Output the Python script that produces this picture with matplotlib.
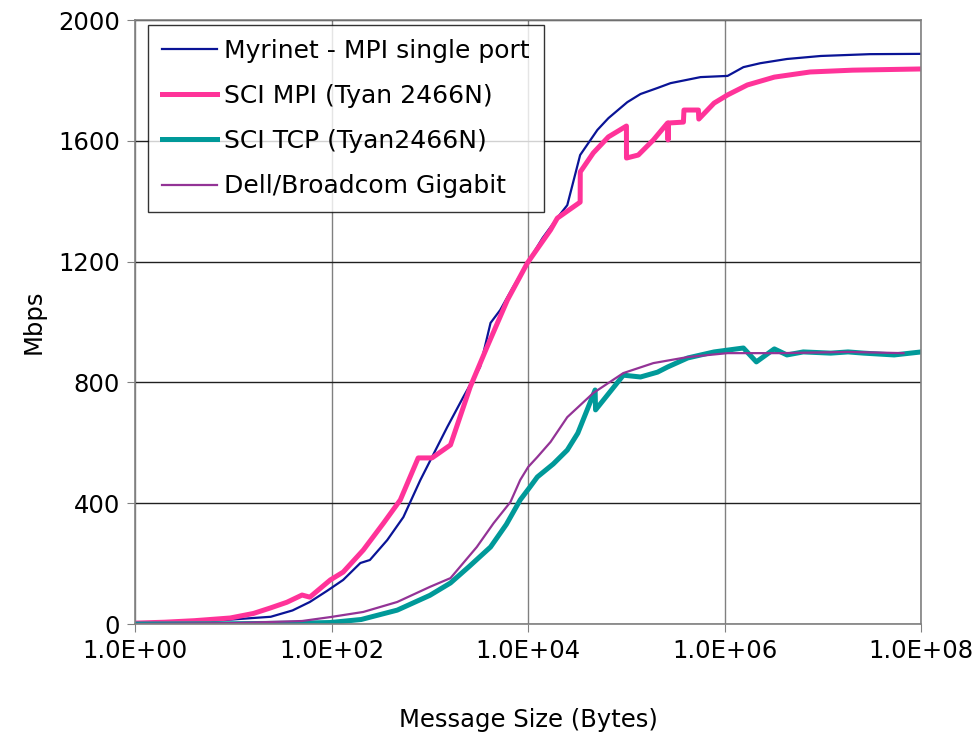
import matplotlib
matplotlib.use('Agg')
import matplotlib.pyplot as plt
from matplotlib.ticker import FixedLocator, FuncFormatter, NullLocator

# values
myrinet_x = [1, 2, 4, 8, 16, 24, 40, 60, 90, 131, 196, 245, 368, 537, 800, 1500, 2190,
             3240, 4140, 5200, 7000, 10000, 14000, 19800, 25000, 33800, 50600, 65500,
             102000, 139000, 207000, 281000, 567000, 1070000, 1550000, 2300000, 4300000,
             9500000, 30000000, 100000000]
myrinet_y = [2, 4, 7, 13, 20, 24, 45, 73, 110, 146, 202, 212, 278, 354, 477, 652, 752,
             851, 997, 1040, 1115, 1200, 1278, 1345, 1387, 1553, 1636, 1675,
             1728, 1755, 1775, 1791, 1811, 1815, 1844, 1857, 1871,
             1881, 1887, 1888]

sci_mpi_x = [1, 2, 4, 9.3, 16, 23.7, 35, 50, 60, 97, 131, 210, 337, 500, 760, 1050, 1620,
             2570, 3810, 6150, 9800, 16900, 19800, 33800, 33900, 46000, 65500, 100000,
             100100, 132000, 188000, 262000, 265000, 268000, 380000, 385000, 540000,
             545000, 780000, 1070000, 1700000, 3200000, 7400000, 20000000, 100000000]
sci_mpi_y = [3, 6, 11, 20, 35, 53, 72, 96, 89, 146, 172, 245, 334, 411, 550, 550, 593,
             785, 917, 1073, 1195, 1305, 1344, 1397, 1497, 1560, 1613, 1649,
             1543, 1553, 1603, 1659, 1603, 1659, 1662, 1702, 1702,
             1672, 1725, 1752, 1785, 1811, 1828, 1834, 1838]

sci_tcp_x = [1, 10, 50, 97, 200, 465, 1000, 1620, 2500, 4140, 6000, 8300, 10500, 12400,
             18000, 25000, 32000, 48000, 48500, 93000, 139000, 207000, 262000, 420000,
             780000, 1550000, 2100000, 3200000, 4300000, 6300000, 12000000, 18000000,
             26000000, 53000000, 100000000]
sci_tcp_y = [0, 1, 3, 5, 15, 46, 95, 136, 190, 255, 330, 411, 455, 487,
             530, 576, 632, 775, 709, 824, 818, 834, 851, 881,
             901, 914, 868, 911, 891, 901, 897, 901,
             897, 891, 901]

dell_x = [1, 10, 50, 97, 210, 465, 1000, 1620, 3000, 4450, 6600, 8300, 10000, 12400,
          16900, 25000, 46000, 93000, 188000, 420000, 1070000, 3700000, 18000000, 66000000]
dell_y = [0, 3, 10, 23, 40, 73, 123, 152, 255, 334, 404, 477, 520, 553,
          603, 685, 765, 831, 864, 884, 897, 897, 901, 897]

x_ticks = [1, 1e2, 1e4, 1e6, 1e8]
y_ticks = [0, 400, 800, 1200, 1600, 2000]

FS = 17.5

fig = plt.figure(figsize=(9.79, 7.42), dpi=100)
ax = fig.add_axes([0.138, 0.159, 0.803, 0.814])

ax.plot(myrinet_x, myrinet_y, color='#0a1496', lw=1.6, label='Myrinet - MPI single port')
ax.plot(sci_mpi_x, sci_mpi_y, color='#ff3399', lw=3.6, label='SCI MPI (Tyan 2466N)')
ax.plot(sci_tcp_x, sci_tcp_y, color='#009999', lw=3.6, label='SCI TCP (Tyan2466N)')
ax.plot(dell_x, dell_y, color='#933396', lw=1.6, label='Dell/Broadcom Gigabit')

ax.set_xscale('log')
ax.set_xlim(1, 1e8)
ax.set_ylim(0, 2000)
ax.xaxis.set_major_locator(FixedLocator(x_ticks))
ax.xaxis.set_minor_locator(NullLocator())
ax.xaxis.set_major_formatter(FuncFormatter(lambda v, p: '%.1E' % v))
ax.set_yticks(y_ticks)

ax.grid(True, axis='x', color='#808080', lw=1)
ax.grid(True, axis='y', color='#202020', lw=1)
ax.set_axisbelow(True)
for s in ax.spines.values():
    s.set_color('#808080')
    s.set_linewidth(1.2)
ax.tick_params(direction='out', length=6, color='#808080', labelsize=FS, pad=5)

ax.set_xlabel('Message Size (Bytes)', fontsize=FS, labelpad=32)
ax.set_ylabel('Mbps', fontsize=FS, labelpad=9)

leg = ax.legend(loc='upper left', bbox_to_anchor=(0.0165, 0.992), borderaxespad=0,
                fontsize=FS + 0.5, fancybox=False, frameon=True, edgecolor='black',
                handlelength=2.2, handletextpad=0.3, labelspacing=0.85, borderpad=0.55)
leg.get_frame().set_linewidth(1.0)

fig.savefig('out.png', dpi=100)
